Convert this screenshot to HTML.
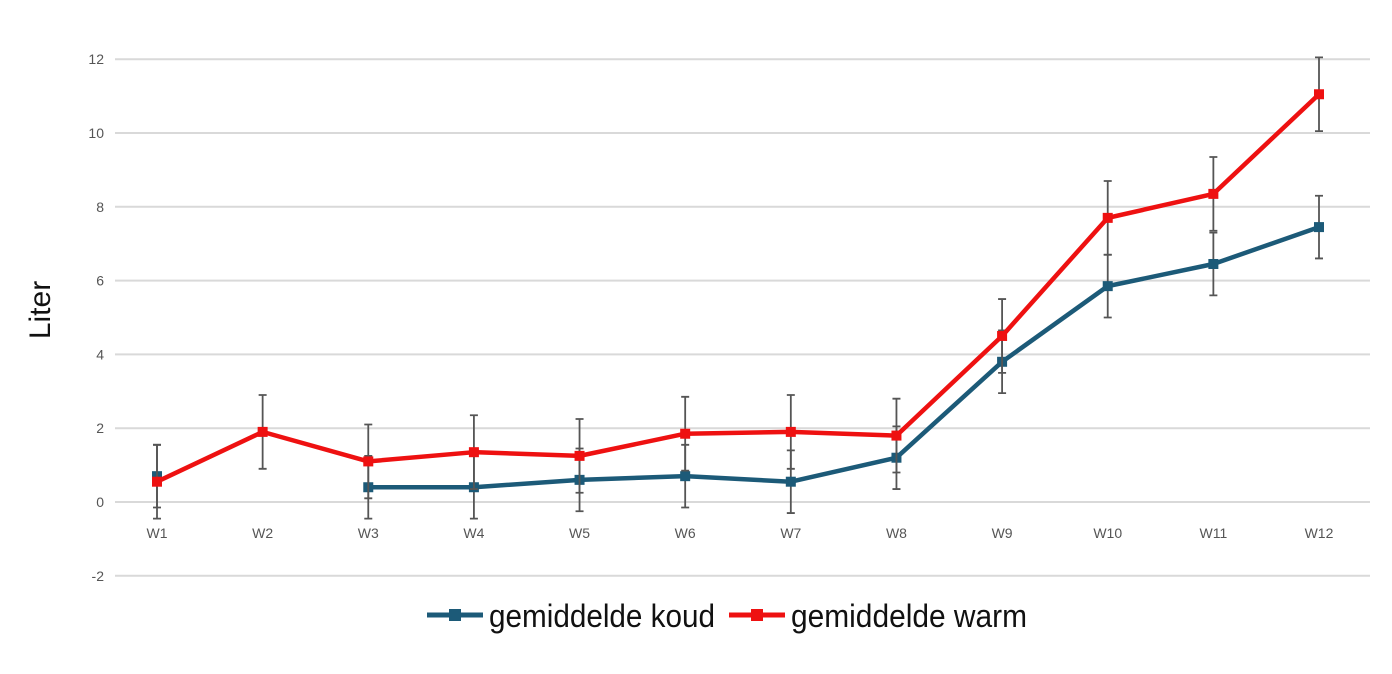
<!DOCTYPE html>
<html><head><meta charset="utf-8"><style>
body{margin:0;background:#fff;font-family:"Liberation Sans",sans-serif;}
svg text{font-family:"Liberation Sans",sans-serif;}
</style></head><body>
<svg id="chart" width="1392" height="669" viewBox="0 0 1392 669" xmlns="http://www.w3.org/2000/svg">
<g id="grid"></g>
<g id="yticks"></g>
<g id="xticks"></g>
<text transform="translate(50,310) rotate(-90)" text-anchor="middle" font-size="30" fill="#111">Liter</text>
<g id="series"></g>
<g>
 <g>
  <line x1="427" y1="615" x2="483" y2="615" stroke="#1c5a78" stroke-width="5"/>
  <rect x="449" y="609" width="12" height="12" fill="#1c5a78"/>
  <text x="489" y="627" font-size="32" fill="#111" textLength="226" lengthAdjust="spacingAndGlyphs">gemiddelde koud</text>
 </g>
 <g>
  <line x1="729" y1="615" x2="785" y2="615" stroke="#ee1111" stroke-width="5"/>
  <rect x="751" y="609" width="12" height="12" fill="#ee1111"/>
  <text x="791" y="627" font-size="32" fill="#111" textLength="236" lengthAdjust="spacingAndGlyphs">gemiddelde warm</text>
 </g>
</g>
</svg>
<script>
const categories=["W1","W2","W3","W4","W5","W6","W7","W8","W9","W10","W11","W12"];
const koudValues=[0.7,null,0.4,0.4,0.6,0.7,0.55,1.2,3.8,5.85,6.45,7.45];
const koudErrors=[0.85,null,0.85,0.85,0.85,0.85,0.85,0.85,0.85,0.85,0.85,0.85];
const warmValues=[0.55,1.9,1.1,1.35,1.25,1.85,1.9,1.8,4.5,7.7,8.35,11.05];
const warmErrors=[1,1,1,1,1,1,1,1,1,1,1,1];
const yTicks=[-2,0,2,4,6,8,10,12];
const NS="http://www.w3.org/2000/svg";
function y(v){return 502-(v)*36.9;}
function x(i){return 157+i*(1319-157)/(categories.length-1);}
function mk(tag,attrs,parent){const e=document.createElementNS(NS,tag);for(const k in attrs)e.setAttribute(k,attrs[k]);parent.appendChild(e);return e;}
const grid=document.getElementById('grid'),yt=document.getElementById('yticks'),xt=document.getElementById('xticks'),ser=document.getElementById('series');
yTicks.forEach(t=>{
 const l=mk('line',{x1:115,x2:1370,y1:y(t),y2:y(t),stroke:'#d9d9d9','stroke-width':2},grid);
 
 
 const tx=mk('text',{x:104,y:y(t)+5,'text-anchor':'end','font-size':14,fill:'#555'},yt);
 tx.textContent=t;
 
 
});
categories.forEach((c,i)=>{
 const tx=mk('text',{x:x(i),y:538,'text-anchor':'middle','font-size':14,fill:'#555'},xt);
 tx.textContent=c;
 
 
});
function drawSeries(vals,errs,color,name){
 const g=mk('g',{},ser);
 
 
 vals.forEach((v,i)=>{
  if(v==null)return;
  const e=errs[i];
  const b=mk('path',{d:`M${x(i)},${y(v+e)}V${y(v-e)}M${x(i)-4},${y(v+e)}h8M${x(i)-4},${y(v-e)}h8`,stroke:'#555','stroke-width':1.8,fill:'none'},g);
  
  
 });
 let d='';let prevNull=true;
 vals.forEach((v,i)=>{if(v==null){prevNull=true;return;}d+=(prevNull?'M':'L')+x(i)+','+y(v);prevNull=false;});
 const p=mk('path',{d:d,stroke:color,'stroke-width':4.5,fill:'none','stroke-linejoin':'round'},g);
 
 
 vals.forEach((v,i)=>{
  if(v==null)return;
  const r=mk('rect',{x:x(i)-5,y:y(v)-5,width:10,height:10,fill:color},g);
  
  
 });
}
drawSeries(koudValues,koudErrors,'#1c5a78','series-koud');
drawSeries(warmValues,warmErrors,'#ee1111','series-warm');
</script>
</body></html>
